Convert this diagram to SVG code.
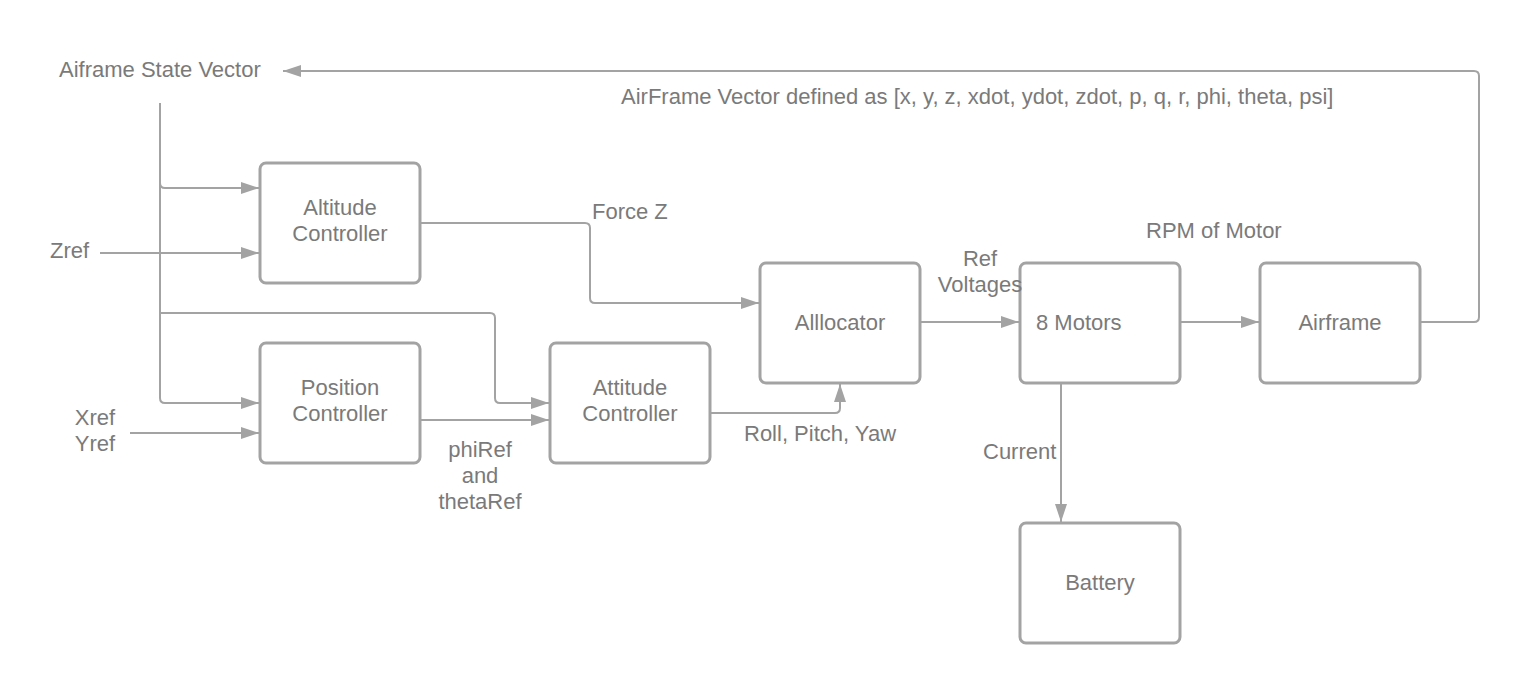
<svg xmlns="http://www.w3.org/2000/svg" width="1520" height="683" viewBox="0 0 1520 683">
<style>
text{font-family:"Liberation Sans",Arial,sans-serif;font-size:22px;fill:#7a7a7a}
.c{text-anchor:middle}
.box{fill:#fff;stroke:#a3a3a3;stroke-width:3}
.ln{fill:none;stroke:#a3a3a3;stroke-width:2;stroke-linejoin:round}
.ar{marker-end:url(#ah)}
</style>
<defs>
<marker id="ah" markerWidth="18" markerHeight="12" refX="18" refY="6" orient="auto" markerUnits="userSpaceOnUse">
<path d="M0,0 L18,6 L0,12 Z" fill="#a3a3a3"/>
</marker>
</defs>
<rect width="1520" height="683" fill="#fff"/>
<g id="connectors">
<path class="ln ar" d="M1420,322 H1474 Q1479,322 1479,317 V76 Q1479,71 1474,71 H283"/>
<path class="ln" d="M160,103 V313"/>
<path class="ln ar" d="M160,183 Q160,188 165,188 H259"/>
<path class="ln ar" d="M160,313 V398 Q160,403 165,403 H259"/>
<path class="ln ar" d="M160,313 Q160,313 165,313 H490 Q495,313 495,318 V398 Q495,403 500,403 H549"/>
<path class="ln ar" d="M100,253 H259"/>
<path class="ln ar" d="M130,433 H259"/>
<path class="ln ar" d="M420,420 H549"/>
<path class="ln ar" d="M420,223 H585 Q590,223 590,228 V298 Q590,303 595,303 H759"/>
<path class="ln ar" d="M710,413 H835 Q840,413 840,408 V384"/>
<path class="ln ar" d="M920,322 H1019"/>
<path class="ln ar" d="M1180,322 H1259"/>
<path class="ln ar" d="M1061,383 V522"/>
</g>
<g id="altitude"><rect class="box" x="260" y="163" width="160" height="120" rx="6"/><text class="c" x="340" y="215">Altitude</text><text class="c" x="340" y="241">Controller</text></g>
<g id="position"><rect class="box" x="260" y="343" width="160" height="120" rx="6"/><text class="c" x="340" y="395">Position</text><text class="c" x="340" y="421">Controller</text></g>
<g id="attitude"><rect class="box" x="550" y="343" width="160" height="120" rx="6"/><text class="c" x="630" y="395">Attitude</text><text class="c" x="630" y="421">Controller</text></g>
<g id="allocator"><rect class="box" x="760" y="263" width="160" height="120" rx="6"/><text class="c" x="840" y="330">Alllocator</text></g>
<g id="motors"><rect class="box" x="1020" y="263" width="160" height="120" rx="6"/><text x="1036" y="330">8 Motors</text></g>
<g id="airframe"><rect class="box" x="1260" y="263" width="160" height="120" rx="6"/><text class="c" x="1340" y="330">Airframe</text></g>
<g id="battery"><rect class="box" x="1020" y="523" width="160" height="120" rx="6"/><text class="c" x="1100" y="590">Battery</text></g>
<g id="labels">
<text x="59" y="77">Aiframe State Vector</text>
<text x="621" y="104">AirFrame Vector defined as [x, y, z, xdot, ydot, zdot, p, q, r, phi, theta, psi]</text>
<text x="50" y="258">Zref</text>
<text x="592" y="219">Force Z</text>
<text x="1146" y="238">RPM of Motor</text>
<text class="c" x="980" y="266">Ref</text>
<text class="c" x="980" y="292">Voltages</text>
<text class="c" x="95" y="425">Xref</text>
<text class="c" x="95" y="451">Yref</text>
<text x="744" y="441">Roll, Pitch, Yaw</text>
<text class="c" x="480" y="457">phiRef</text>
<text class="c" x="480" y="483">and</text>
<text class="c" x="480" y="509">thetaRef</text>
<text x="983" y="459">Current</text>
</g>
</svg>
